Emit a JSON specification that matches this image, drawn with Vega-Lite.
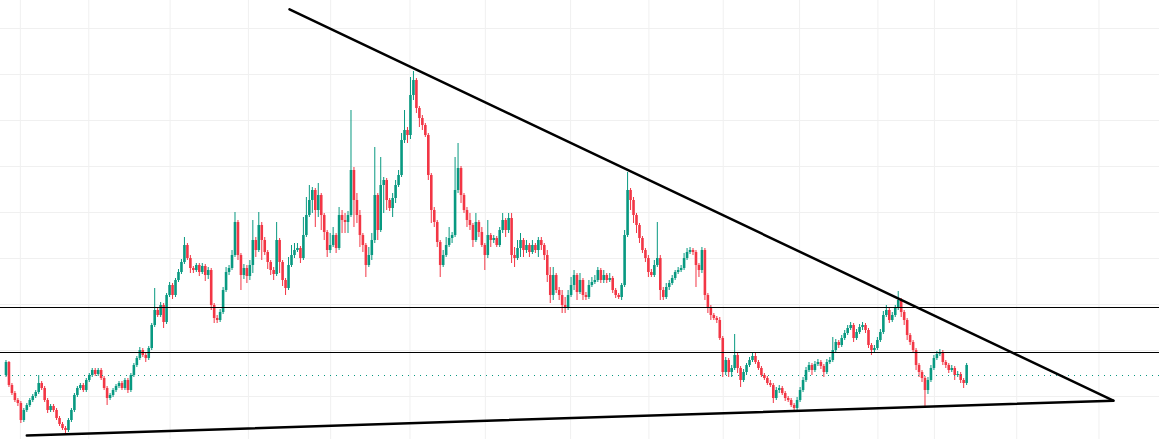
{
"$schema": "https://vega.github.io/schema/vega-lite/v6.json",
"width": 1159, "height": 439, "autosize": {"type": "none"}, "padding": 0,
"background": "white",
"config": {"view": {"stroke": null}},
"datasets": {
"candles": [
{"x":1,"o":64,"h":79,"l":62,"c":77},{"x":4,"o":77,"h":78,"l":52,"c":54},{"x":7,"o":54,"h":56,"l":44,"c":46},{"x":10,"o":46,"h":48,"l":37,"c":39},{"x":13,"o":39,"h":41,"l":33,"c":36},{"x":16,"o":36,"h":38,"l":16,"c":19},{"x":19,"o":19,"h":31,"l":17,"c":29},{"x":22,"o":29,"h":36,"l":27,"c":34},{"x":25,"o":34,"h":41,"l":32,"c":39},{"x":28,"o":39,"h":45,"l":37,"c":43},
{"x":31,"o":43,"h":49,"l":41,"c":47},{"x":34,"o":47,"h":64,"l":45,"c":56},{"x":37,"o":56,"h":58,"l":49,"c":51},{"x":40,"o":51,"h":53,"l":37,"c":39},{"x":43,"o":39,"h":41,"l":26,"c":29},{"x":46,"o":29,"h":35,"l":27,"c":33},{"x":49,"o":33,"h":35,"l":27,"c":29},{"x":52,"o":29,"h":31,"l":19,"c":21},{"x":55,"o":21,"h":23,"l":13,"c":15},{"x":58,"o":15,"h":17,"l":9,"c":11},
{"x":61,"o":11,"h":13,"l":6,"c":9},{"x":64,"o":9,"h":21,"l":7,"c":19},{"x":67,"o":19,"h":31,"l":17,"c":29},{"x":70,"o":29,"h":46,"l":27,"c":44},{"x":73,"o":44,"h":53,"l":42,"c":51},{"x":76,"o":51,"h":56,"l":49,"c":54},{"x":79,"o":54,"h":56,"l":47,"c":49},{"x":82,"o":49,"h":61,"l":47,"c":59},{"x":85,"o":59,"h":66,"l":57,"c":64},{"x":88,"o":64,"h":71,"l":62,"c":69},
{"x":91,"o":69,"h":71,"l":63,"c":65},{"x":94,"o":65,"h":71,"l":63,"c":69},{"x":97,"o":69,"h":71,"l":59,"c":61},{"x":100,"o":61,"h":63,"l":49,"c":51},{"x":103,"o":51,"h":53,"l":34,"c":41},{"x":106,"o":41,"h":46,"l":39,"c":44},{"x":109,"o":44,"h":51,"l":42,"c":49},{"x":112,"o":49,"h":55,"l":47,"c":53},{"x":115,"o":53,"h":58,"l":51,"c":56},{"x":118,"o":56,"h":58,"l":49,"c":51},
{"x":121,"o":51,"h":61,"l":49,"c":59},{"x":124,"o":59,"h":61,"l":46,"c":49},{"x":127,"o":49,"h":66,"l":47,"c":64},{"x":130,"o":64,"h":76,"l":62,"c":74},{"x":133,"o":74,"h":83,"l":72,"c":81},{"x":136,"o":81,"h":92,"l":79,"c":89},{"x":139,"o":89,"h":91,"l":82,"c":84},{"x":142,"o":84,"h":86,"l":77,"c":81},{"x":145,"o":81,"h":93,"l":79,"c":91},{"x":148,"o":91,"h":116,"l":89,"c":114},
{"x":151,"o":114,"h":151,"l":112,"c":129},{"x":154,"o":129,"h":132,"l":122,"c":124},{"x":157,"o":124,"h":137,"l":122,"c":134},{"x":160,"o":134,"h":136,"l":111,"c":117},{"x":163,"o":117,"h":146,"l":115,"c":144},{"x":166,"o":144,"h":157,"l":142,"c":154},{"x":169,"o":154,"h":156,"l":140,"c":144},{"x":172,"o":144,"h":161,"l":142,"c":159},{"x":175,"o":159,"h":170,"l":157,"c":167},{"x":178,"o":167,"h":180,"l":165,"c":177},
{"x":181,"o":177,"h":202,"l":175,"c":194},{"x":184,"o":194,"h":196,"l":179,"c":181},{"x":187,"o":181,"h":184,"l":166,"c":171},{"x":190,"o":171,"h":173,"l":166,"c":169},{"x":193,"o":169,"h":176,"l":167,"c":174},{"x":196,"o":174,"h":176,"l":163,"c":167},{"x":199,"o":167,"h":176,"l":165,"c":173},{"x":202,"o":173,"h":175,"l":158,"c":164},{"x":205,"o":164,"h":172,"l":160,"c":169},{"x":208,"o":169,"h":171,"l":129,"c":134},
{"x":211,"o":134,"h":136,"l":116,"c":121},{"x":214,"o":121,"h":124,"l":116,"c":119},{"x":217,"o":119,"h":130,"l":117,"c":127},{"x":220,"o":127,"h":152,"l":125,"c":149},{"x":223,"o":149,"h":172,"l":147,"c":167},{"x":226,"o":167,"h":174,"l":164,"c":171},{"x":229,"o":171,"h":189,"l":169,"c":184},{"x":232,"o":184,"h":227,"l":182,"c":217},{"x":235,"o":217,"h":219,"l":179,"c":184},{"x":238,"o":184,"h":186,"l":149,"c":164},
{"x":241,"o":164,"h":175,"l":160,"c":171},{"x":244,"o":171,"h":174,"l":156,"c":163},{"x":247,"o":163,"h":179,"l":159,"c":174},{"x":250,"o":174,"h":219,"l":166,"c":199},{"x":253,"o":199,"h":202,"l":182,"c":189},{"x":256,"o":189,"h":227,"l":187,"c":214},{"x":259,"o":214,"h":217,"l":179,"c":199},{"x":262,"o":199,"h":202,"l":184,"c":187},{"x":265,"o":187,"h":189,"l":170,"c":177},{"x":268,"o":177,"h":179,"l":164,"c":169},
{"x":271,"o":169,"h":172,"l":159,"c":165},{"x":274,"o":165,"h":217,"l":163,"c":199},{"x":277,"o":199,"h":201,"l":166,"c":177},{"x":280,"o":177,"h":179,"l":153,"c":159},{"x":283,"o":159,"h":161,"l":144,"c":151},{"x":286,"o":151,"h":182,"l":149,"c":174},{"x":289,"o":174,"h":194,"l":172,"c":184},{"x":292,"o":184,"h":196,"l":181,"c":189},{"x":295,"o":189,"h":196,"l":187,"c":191},{"x":298,"o":191,"h":193,"l":176,"c":181},
{"x":301,"o":181,"h":222,"l":179,"c":204},{"x":304,"o":204,"h":242,"l":202,"c":224},{"x":307,"o":224,"h":254,"l":222,"c":239},{"x":310,"o":239,"h":252,"l":226,"c":249},{"x":313,"o":249,"h":251,"l":212,"c":229},{"x":316,"o":229,"h":256,"l":222,"c":244},{"x":319,"o":244,"h":246,"l":209,"c":224},{"x":322,"o":224,"h":226,"l":199,"c":207},{"x":325,"o":207,"h":209,"l":182,"c":189},{"x":328,"o":189,"h":206,"l":186,"c":194},
{"x":331,"o":194,"h":212,"l":192,"c":204},{"x":334,"o":204,"h":206,"l":186,"c":191},{"x":337,"o":191,"h":232,"l":189,"c":224},{"x":340,"o":224,"h":229,"l":206,"c":219},{"x":343,"o":219,"h":226,"l":206,"c":217},{"x":346,"o":217,"h":228,"l":206,"c":224},{"x":349,"o":224,"h":329,"l":222,"c":269},{"x":352,"o":269,"h":272,"l":212,"c":239},{"x":355,"o":239,"h":246,"l":216,"c":224},{"x":358,"o":224,"h":229,"l":192,"c":204},
{"x":361,"o":204,"h":206,"l":187,"c":194},{"x":364,"o":194,"h":196,"l":162,"c":174},{"x":367,"o":174,"h":192,"l":172,"c":184},{"x":370,"o":184,"h":206,"l":179,"c":199},{"x":373,"o":199,"h":292,"l":196,"c":244},{"x":376,"o":244,"h":246,"l":199,"c":209},{"x":379,"o":209,"h":282,"l":207,"c":254},{"x":382,"o":254,"h":262,"l":226,"c":259},{"x":385,"o":259,"h":261,"l":229,"c":239},{"x":388,"o":239,"h":241,"l":228,"c":231},
{"x":391,"o":231,"h":246,"l":222,"c":241},{"x":394,"o":241,"h":259,"l":236,"c":254},{"x":397,"o":254,"h":269,"l":252,"c":264},{"x":400,"o":264,"h":306,"l":262,"c":299},{"x":403,"o":299,"h":329,"l":296,"c":309},{"x":406,"o":309,"h":312,"l":296,"c":304},{"x":409,"o":304,"h":362,"l":300,"c":344},{"x":412,"o":344,"h":368,"l":339,"c":359},{"x":415,"o":359,"h":361,"l":326,"c":331},{"x":418,"o":331,"h":333,"l":312,"c":321},
{"x":421,"o":321,"h":324,"l":309,"c":314},{"x":424,"o":314,"h":316,"l":302,"c":304},{"x":427,"o":304,"h":306,"l":259,"c":264},{"x":430,"o":264,"h":266,"l":216,"c":229},{"x":433,"o":229,"h":232,"l":212,"c":217},{"x":436,"o":217,"h":219,"l":192,"c":197},{"x":439,"o":197,"h":199,"l":162,"c":174},{"x":442,"o":174,"h":189,"l":172,"c":184},{"x":445,"o":184,"h":202,"l":182,"c":194},{"x":448,"o":194,"h":212,"l":192,"c":201},
{"x":451,"o":201,"h":207,"l":196,"c":204},{"x":454,"o":204,"h":282,"l":202,"c":249},{"x":457,"o":249,"h":296,"l":246,"c":271},{"x":460,"o":271,"h":273,"l":236,"c":244},{"x":463,"o":244,"h":246,"l":226,"c":229},{"x":466,"o":229,"h":232,"l":212,"c":219},{"x":469,"o":219,"h":226,"l":209,"c":214},{"x":472,"o":214,"h":216,"l":192,"c":199},{"x":475,"o":199,"h":226,"l":197,"c":217},{"x":478,"o":217,"h":219,"l":202,"c":207},
{"x":481,"o":207,"h":212,"l":192,"c":194},{"x":484,"o":194,"h":196,"l":169,"c":184},{"x":487,"o":184,"h":219,"l":181,"c":204},{"x":490,"o":204,"h":206,"l":192,"c":199},{"x":493,"o":199,"h":204,"l":196,"c":201},{"x":496,"o":201,"h":203,"l":192,"c":194},{"x":499,"o":194,"h":212,"l":192,"c":209},{"x":502,"o":209,"h":226,"l":206,"c":219},{"x":505,"o":219,"h":221,"l":202,"c":209},{"x":508,"o":209,"h":226,"l":206,"c":221},
{"x":511,"o":221,"h":226,"l":176,"c":184},{"x":514,"o":184,"h":192,"l":172,"c":181},{"x":517,"o":181,"h":199,"l":179,"c":191},{"x":520,"o":191,"h":206,"l":182,"c":199},{"x":523,"o":199,"h":201,"l":182,"c":189},{"x":526,"o":189,"h":199,"l":186,"c":194},{"x":529,"o":194,"h":196,"l":182,"c":187},{"x":532,"o":187,"h":199,"l":185,"c":194},{"x":535,"o":194,"h":196,"l":186,"c":189},{"x":538,"o":189,"h":202,"l":182,"c":199},
{"x":541,"o":199,"h":202,"l":189,"c":194},{"x":544,"o":194,"h":196,"l":179,"c":184},{"x":547,"o":184,"h":189,"l":157,"c":164},{"x":550,"o":164,"h":172,"l":136,"c":144},{"x":553,"o":144,"h":172,"l":139,"c":164},{"x":556,"o":164,"h":166,"l":146,"c":149},{"x":559,"o":149,"h":152,"l":139,"c":144},{"x":562,"o":144,"h":149,"l":126,"c":134},{"x":565,"o":134,"h":142,"l":126,"c":131},{"x":568,"o":131,"h":149,"l":129,"c":144},
{"x":571,"o":144,"h":162,"l":142,"c":154},{"x":574,"o":154,"h":169,"l":149,"c":164},{"x":577,"o":164,"h":166,"l":139,"c":147},{"x":580,"o":147,"h":166,"l":145,"c":159},{"x":583,"o":159,"h":161,"l":139,"c":144},{"x":586,"o":144,"h":147,"l":139,"c":142},{"x":589,"o":142,"h":159,"l":140,"c":154},{"x":592,"o":154,"h":162,"l":152,"c":157},{"x":595,"o":157,"h":164,"l":155,"c":159},{"x":598,"o":159,"h":172,"l":157,"c":169},
{"x":601,"o":169,"h":171,"l":156,"c":159},{"x":604,"o":159,"h":169,"l":156,"c":164},{"x":607,"o":164,"h":166,"l":156,"c":159},{"x":610,"o":159,"h":166,"l":157,"c":161},{"x":613,"o":161,"h":163,"l":146,"c":149},{"x":616,"o":149,"h":151,"l":141,"c":144},{"x":619,"o":144,"h":146,"l":140,"c":142},{"x":622,"o":142,"h":156,"l":139,"c":154},{"x":625,"o":154,"h":209,"l":152,"c":204},{"x":628,"o":204,"h":267,"l":202,"c":249},
{"x":631,"o":249,"h":251,"l":229,"c":239},{"x":634,"o":239,"h":242,"l":216,"c":224},{"x":637,"o":224,"h":226,"l":206,"c":214},{"x":640,"o":214,"h":216,"l":196,"c":201},{"x":643,"o":201,"h":203,"l":186,"c":189},{"x":646,"o":189,"h":191,"l":177,"c":181},{"x":649,"o":181,"h":184,"l":162,"c":167},{"x":652,"o":167,"h":170,"l":162,"c":164},{"x":655,"o":164,"h":179,"l":162,"c":174},{"x":658,"o":174,"h":217,"l":172,"c":181},
{"x":661,"o":181,"h":184,"l":139,"c":149},{"x":664,"o":149,"h":152,"l":139,"c":142},{"x":667,"o":142,"h":156,"l":140,"c":152},{"x":670,"o":152,"h":159,"l":149,"c":156},{"x":673,"o":156,"h":164,"l":154,"c":161},{"x":676,"o":161,"h":169,"l":159,"c":167},{"x":679,"o":167,"h":172,"l":165,"c":169},{"x":682,"o":169,"h":174,"l":167,"c":171},{"x":685,"o":171,"h":186,"l":169,"c":181},{"x":688,"o":181,"h":191,"l":179,"c":187},
{"x":691,"o":187,"h":192,"l":185,"c":189},{"x":694,"o":189,"h":191,"l":184,"c":187},{"x":697,"o":187,"h":189,"l":152,"c":174},{"x":700,"o":174,"h":176,"l":162,"c":169},{"x":703,"o":169,"h":192,"l":166,"c":189},{"x":706,"o":189,"h":191,"l":139,"c":144},{"x":709,"o":144,"h":146,"l":126,"c":131},{"x":712,"o":131,"h":134,"l":119,"c":124},{"x":715,"o":124,"h":126,"l":119,"c":121},{"x":718,"o":121,"h":123,"l":116,"c":119},
{"x":721,"o":119,"h":122,"l":99,"c":101},{"x":724,"o":101,"h":103,"l":62,"c":67},{"x":727,"o":67,"h":82,"l":64,"c":79},{"x":730,"o":79,"h":81,"l":62,"c":67},{"x":733,"o":67,"h":74,"l":62,"c":71},{"x":736,"o":71,"h":105,"l":69,"c":84},{"x":739,"o":84,"h":86,"l":66,"c":71},{"x":742,"o":71,"h":73,"l":52,"c":59},{"x":745,"o":59,"h":70,"l":57,"c":67},{"x":748,"o":67,"h":76,"l":64,"c":74},
{"x":751,"o":74,"h":82,"l":72,"c":79},{"x":754,"o":79,"h":86,"l":77,"c":83},{"x":757,"o":83,"h":86,"l":75,"c":77},{"x":760,"o":77,"h":79,"l":69,"c":71},{"x":763,"o":71,"h":73,"l":62,"c":64},{"x":766,"o":64,"h":66,"l":59,"c":61},{"x":769,"o":61,"h":63,"l":54,"c":56},{"x":772,"o":56,"h":59,"l":52,"c":54},{"x":775,"o":54,"h":56,"l":36,"c":41},{"x":778,"o":41,"h":52,"l":39,"c":49},
{"x":781,"o":49,"h":54,"l":46,"c":51},{"x":784,"o":51,"h":53,"l":44,"c":46},{"x":787,"o":46,"h":48,"l":38,"c":41},{"x":790,"o":41,"h":43,"l":37,"c":39},{"x":793,"o":39,"h":41,"l":32,"c":34},{"x":796,"o":34,"h":36,"l":27,"c":31},{"x":799,"o":31,"h":42,"l":29,"c":39},{"x":802,"o":39,"h":52,"l":37,"c":49},{"x":805,"o":49,"h":62,"l":47,"c":59},{"x":808,"o":59,"h":72,"l":57,"c":69},
{"x":811,"o":69,"h":77,"l":67,"c":74},{"x":814,"o":74,"h":76,"l":64,"c":69},{"x":817,"o":69,"h":78,"l":67,"c":75},{"x":820,"o":75,"h":80,"l":73,"c":77},{"x":823,"o":77,"h":79,"l":70,"c":73},{"x":826,"o":73,"h":75,"l":62,"c":67},{"x":829,"o":67,"h":80,"l":65,"c":77},{"x":832,"o":77,"h":82,"l":75,"c":79},{"x":835,"o":79,"h":102,"l":77,"c":89},{"x":838,"o":89,"h":100,"l":87,"c":97},
{"x":841,"o":97,"h":99,"l":91,"c":94},{"x":844,"o":94,"h":104,"l":92,"c":101},{"x":847,"o":101,"h":109,"l":99,"c":106},{"x":850,"o":106,"h":114,"l":104,"c":111},{"x":853,"o":111,"h":117,"l":109,"c":114},{"x":856,"o":114,"h":116,"l":97,"c":101},{"x":859,"o":101,"h":110,"l":99,"c":107},{"x":862,"o":107,"h":115,"l":105,"c":112},{"x":865,"o":112,"h":117,"l":109,"c":114},{"x":868,"o":114,"h":116,"l":106,"c":109},
{"x":871,"o":109,"h":111,"l":91,"c":94},{"x":874,"o":94,"h":96,"l":84,"c":89},{"x":877,"o":89,"h":94,"l":87,"c":91},{"x":880,"o":91,"h":102,"l":89,"c":99},{"x":883,"o":99,"h":110,"l":97,"c":107},{"x":886,"o":107,"h":128,"l":105,"c":124},{"x":889,"o":124,"h":134,"l":122,"c":129},{"x":892,"o":129,"h":131,"l":116,"c":119},{"x":895,"o":119,"h":127,"l":117,"c":124},{"x":898,"o":124,"h":134,"l":122,"c":131},
{"x":901,"o":131,"h":148,"l":129,"c":139},{"x":904,"o":139,"h":141,"l":122,"c":127},{"x":907,"o":127,"h":129,"l":114,"c":119},{"x":910,"o":119,"h":121,"l":99,"c":104},{"x":913,"o":104,"h":106,"l":94,"c":97},{"x":916,"o":97,"h":99,"l":86,"c":89},{"x":919,"o":89,"h":91,"l":69,"c":74},{"x":922,"o":74,"h":76,"l":62,"c":67},{"x":925,"o":67,"h":69,"l":57,"c":61},{"x":928,"o":61,"h":63,"l":32,"c":49},
{"x":931,"o":49,"h":62,"l":45,"c":59},{"x":934,"o":59,"h":74,"l":57,"c":71},{"x":937,"o":71,"h":84,"l":69,"c":81},{"x":940,"o":81,"h":88,"l":79,"c":85},{"x":943,"o":85,"h":90,"l":83,"c":87},{"x":946,"o":87,"h":89,"l":74,"c":77},{"x":949,"o":77,"h":79,"l":71,"c":74},{"x":952,"o":74,"h":76,"l":66,"c":69},{"x":955,"o":69,"h":74,"l":67,"c":71},{"x":958,"o":71,"h":73,"l":59,"c":64},
{"x":961,"o":64,"h":68,"l":62,"c":65},{"x":964,"o":65,"h":67,"l":56,"c":59},{"x":967,"o":59,"h":61,"l":51,"c":56},{"x":970,"o":56,"h":76,"l":54,"c":74}
],
"levels": [{"p":131.5},{"p":86.5}],
"dotted": [{"p":63.5}],
"trend": [{"x":287,"p":429.7,"k":"u"},{"x":1118,"p":38.3,"k":"u"},{"x":22,"p":3.5,"k":"d"},{"x":1118,"p":38.3,"k":"d"}],
"gridx": [{"g":15.5},{"g":84.5},{"g":166.5},{"g":245.5},{"g":328.5},{"g":408.5},{"g":484.5},{"g":570.5},{"g":649.5},{"g":724.5},{"g":801.5},{"g":880.5},{"g":937.5},{"g":1020.5},{"g":1103.5}],
"gridy": [{"g":410.5},{"g":364.5},{"g":318.5},{"g":272.5},{"g":226.5},{"g":180.5},{"g":134.5},{"g":88.5},{"g":42.5}]
},
"layer": [
{"data": {"name": "gridx"}, "mark": {"type": "rule", "color": "#f0f0f0", "strokeWidth": 1},
 "encoding": {"x": {"field": "g", "type": "quantitative", "scale": {"domain": [0, 1159], "nice": false, "zero": false}, "axis": null}}},
{"data": {"name": "gridy"}, "mark": {"type": "rule", "color": "#f0f0f0", "strokeWidth": 1},
 "encoding": {"y": {"field": "g", "type": "quantitative", "scale": {"domain": [0, 439], "nice": false, "zero": false}, "axis": null}}},
{"data": {"name": "candles"}, "mark": {"type": "rule", "strokeWidth": 1},
 "encoding": {
  "x": {"field": "x", "type": "quantitative", "scale": {"domain": [0, 1159], "nice": false, "zero": false}, "axis": null},
  "y": {"field": "l", "type": "quantitative", "scale": {"domain": [0, 439], "nice": false, "zero": false}, "axis": null},
  "y2": {"field": "h"},
  "color": {"condition": {"test": "datum.c >= datum.o", "value": "#089981"}, "value": "#F23645"}}},
{"data": {"name": "candles"}, "mark": {"type": "bar", "width": 2.6},
 "encoding": {
  "x": {"field": "x", "type": "quantitative", "scale": {"domain": [0, 1159], "nice": false, "zero": false}, "axis": null},
  "y": {"field": "o", "type": "quantitative", "scale": {"domain": [0, 439], "nice": false, "zero": false}, "axis": null},
  "y2": {"field": "c"},
  "color": {"condition": {"test": "datum.c >= datum.o", "value": "#089981"}, "value": "#F23645"}}},
{"data": {"name": "levels"}, "mark": {"type": "rule", "color": "#000000", "strokeWidth": 1},
 "encoding": {"y": {"field": "p", "type": "quantitative", "scale": {"domain": [0, 439], "nice": false, "zero": false}, "axis": null}}},
{"data": {"name": "dotted"}, "mark": {"type": "rule", "color": "#089981", "strokeWidth": 1, "strokeDash": [1, 5]},
 "encoding": {"y": {"field": "p", "type": "quantitative", "scale": {"domain": [0, 439], "nice": false, "zero": false}, "axis": null}}},
{"data": {"name": "trend"}, "mark": {"type": "line", "color": "#000000", "strokeWidth": 2.5, "strokeCap": "round"},
 "encoding": {
  "x": {"field": "x", "type": "quantitative", "scale": {"domain": [0, 1159], "nice": false, "zero": false}, "axis": null},
  "y": {"field": "p", "type": "quantitative", "scale": {"domain": [0, 439], "nice": false, "zero": false}, "axis": null},
  "detail": {"field": "k", "type": "nominal"}}}
]
}
